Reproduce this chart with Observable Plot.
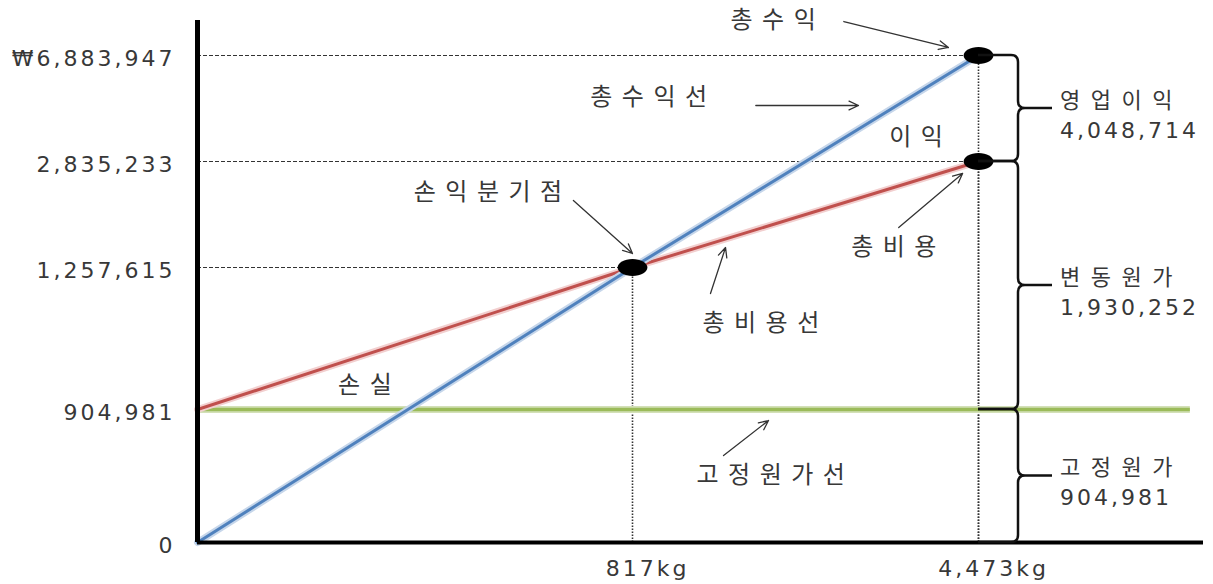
<!DOCTYPE html>
<html>
<head>
<meta charset="utf-8">
<script src="https://cdn.jsdelivr.net/npm/d3@7"></script>
<script src="https://cdn.jsdelivr.net/npm/@observablehq/plot@0.6"></script>
<style>
  html, body { margin: 0; padding: 0; background: #fff; }
  #chart svg { display: block; }
</style>
</head>
<body>
<div id="chart"></div>
<script>
// ---- data ----
const units = [0, 817, 4473];                    // 판매량 (kg)
const revenue = [0, 1257615, 6883947];            // 총수익
const totalCost = [904981, 1257615, 2835233];     // 총비용
const fixedCost = 904981;                         // 고정원가

const xTicks = [817, 4473];
const xTickLabels = ["817kg", "4,473kg"];
const yTicks = [0, 904981, 1257615, 2835233, 6883947];
const yTickLabels = ["0", "904,981", "1,257,615", "2,835,233", "₩6,883,947"];

const braceNames = ["영업이익", "변동원가", "고정원가"];
const braceValues = [4048714, 1930252, 904981];
const braceFrom = [2835233, 904981, 0];
const braceTo = [6883947, 2835233, 904981];

const noteTexts = ["총수익", "총수익선", "이익", "손익분기점", "총비용", "총비용선", "손실", "고정원가선"];
const noteX = [2300, 985, 3810, 545, 3575, 2170, 314, 2275];
const noteY = [8220000, 5280000, 3750000, 2375000, 1555000, 1118500, 964500, 456000];

const arrowX1 = [3050, 2120, 706, 3630, 1641, 1779];
const arrowY1 = [8180000, 4975000, 2255000, 1853000, 1193000, 592000];
const arrowX2 = [4155, 3205, 817, 4305, 1800, 2254];
const arrowY2 = [7190000, 4975000, 1466000, 2657000, 1555000, 830000];

// ---- derived tables ----
const series = units.map((u, i) => ({u, rev: revenue[i], cost: totalCost[i]}));
const keyPoints = [
  {x: units[1], y: revenue[1]},
  {x: units[2], y: revenue[2]},
  {x: units[2], y: totalCost[2]}
];
const notes = noteTexts.map((t, i) => ({t, x: noteX[i], y: noteY[i]}));
const arrows = arrowX1.map((x1, i) => ({x1, y1: arrowY1[i], x2: arrowX2[i], y2: arrowY2[i]}));

const fmt = d3.format(",");
const KR_SIZE = 24, KR_SPACING = "9.5px";

// elliptical dot symbol
const ellipse = {
  draw(ctx, size) {
    const r = Math.sqrt(size / Math.PI), rx = r * 1.75, ry = r, k = 0.5523;
    ctx.moveTo(rx, 0);
    ctx.bezierCurveTo(rx, ry * k, rx * k, ry, 0, ry);
    ctx.bezierCurveTo(-rx * k, ry, -rx, ry * k, -rx, 0);
    ctx.bezierCurveTo(-rx, -ry * k, -rx * k, -ry, 0, -ry);
    ctx.bezierCurveTo(rx * k, -ry, rx, -ry * k, rx, 0);
    ctx.closePath();
  }
};

// curly braces with labels, drawn through the plot's scales
function braceMark(index, scales) {
  const x = scales.x, y = scales.y;
  const g = d3.create("svg:g");
  const xl = x(units[2]);
  const bx = xl + 40;
  const tipX = bx + 34;
  const r = 7;
  for (let i = 0; i < braceNames.length; i++) {
    const yt = y(braceTo[i]), yb = y(braceFrom[i]), ym = (yt + yb) / 2;
    const d = `M${xl},${yt} L${bx - r},${yt} Q${bx},${yt} ${bx},${yt + r} L${bx},${ym - r} Q${bx},${ym} ${bx + r},${ym} L${tipX},${ym} ` +
              `M${bx + r},${ym} Q${bx},${ym} ${bx},${ym + r} L${bx},${yb - r} Q${bx},${yb} ${bx - r},${yb} L${xl},${yb}`;
    g.append("path").attr("d", d).attr("fill", "none").attr("stroke", "#111").attr("stroke-width", 2.5);
    g.append("text").attr("x", tipX + 8).attr("y", ym - 8).attr("dy", "0.35em")
      .attr("text-anchor", "start").attr("fill", "#383838")
      .attr("font-family", "Noto Sans CJK KR").attr("font-size", 22).attr("letter-spacing", "10.5px")
      .text(braceNames[i]);
    g.append("text").attr("x", tipX + 8).attr("y", ym + 22).attr("dy", "0.35em")
      .attr("text-anchor", "start").attr("fill", "#383838").attr("font-size", 22)
      .text(fmt(braceValues[i]));
  }
  return g.node();
}

const plot = Plot.plot({
  width: 1213,
  height: 584,
  marginLeft: 197,
  marginRight: 10,
  marginTop: 10,
  marginBottom: 42,
  style: {fontSize: "22px", fontFamily: "DejaVu Sans, 'Noto Sans CJK KR', sans-serif", color: "#383838", background: "#fff", letterSpacing: "3px"},
  x: {type: "linear", domain: [0, 817, 4473, 5500], range: [197, 632, 978, 1203]},
  y: {type: "linear", domain: [0, 904981, 1257615, 2835233, 6883947, 8600000], range: [542, 409, 267, 161, 55, 10]},
  marks: [
    // guides
    Plot.ruleY(keyPoints, {y: "y", x1: 0, x2: "x", stroke: "#333", strokeWidth: 1, strokeDasharray: "4,2"}),
    Plot.ruleX(keyPoints, {x: "x", y1: 0, y2: "y", stroke: "#333", strokeWidth: 1.6, strokeDasharray: "1.5,1.5"}),
    // fixed cost line
    Plot.ruleY([fixedCost], {x1: 0, x2: 5440, stroke: "#d3e0b8", strokeWidth: 7}),
    Plot.ruleY([fixedCost], {x1: 0, x2: 5440, stroke: "#9bbb59", strokeWidth: 3.5}),
    // total cost line
    Plot.line(series, {x: "u", y: "cost", stroke: "#f2cfcf", strokeWidth: 7}),
    Plot.line(series, {x: "u", y: "cost", stroke: "#c0504d", strokeWidth: 3}),
    // revenue line
    Plot.line(series, {x: "u", y: "rev", stroke: "#c6d6ea", strokeWidth: 7}),
    Plot.line(series, {x: "u", y: "rev", stroke: "#4f81bd", strokeWidth: 3}),
    // axes lines
    Plot.ruleX([0], {y1: 0, y2: 8220000, stroke: "#000", strokeWidth: 5}),
    Plot.ruleY([0], {x1: 0, x2: 5500, stroke: "#000", strokeWidth: 4}),
    // key points
    Plot.dot(keyPoints, {x: "x", y: "y", r: 8.5, symbol: ellipse, fill: "#000", stroke: null}),
    // annotations
    Plot.arrow(arrows, {x1: "x1", y1: "y1", x2: "x2", y2: "y2", stroke: "#333", strokeWidth: 1.3, headLength: 12, headAngle: 50}),
    Plot.text(notes, {x: "x", y: "y", text: "t", fontFamily: "Noto Sans CJK KR", fontSize: KR_SIZE, fill: "#383838", dx: 5}),
    braceMark,
    // tick labels
    Plot.axisY(yTicks, {tickSize: 0, tickPadding: 22, dy: 3, label: null, tickFormat: d => yTickLabels[yTicks.indexOf(d)]}),
    Plot.axisX(xTicks, {tickSize: 0, tickPadding: 18, dx: 15, label: null, tickFormat: d => xTickLabels[xTicks.indexOf(d)]})
  ]
});

d3.select(plot).selectAll("text").filter(function () {
  return /[\uAC00-\uD7A3]/.test(this.textContent) && !this.hasAttribute("letter-spacing");
}).style("letter-spacing", KR_SPACING);

document.getElementById("chart").appendChild(plot);
</script>
</body>
</html>
